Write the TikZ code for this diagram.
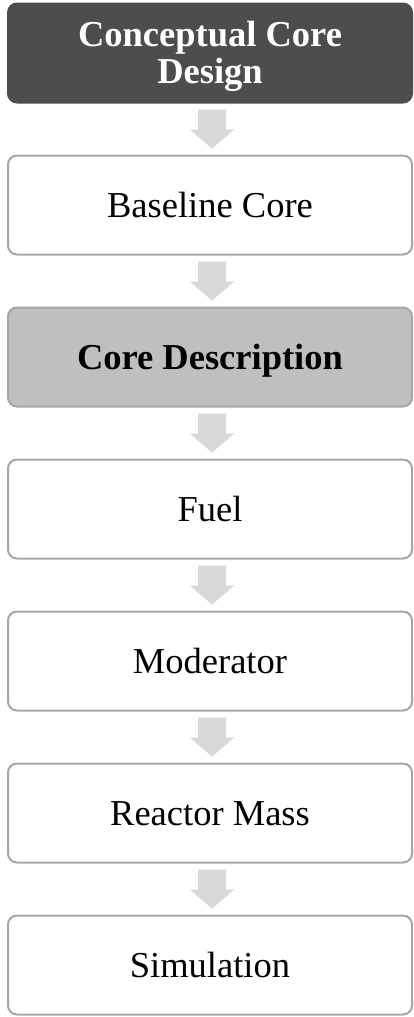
\documentclass[tikz,border=0pt]{standalone}
\usepackage{fontspec}
\setmainfont{Liberation Serif}
\usetikzlibrary{calc}
\definecolor{darkfill}{HTML}{4D4D4D}
\definecolor{midfill}{HTML}{BFBFBF}
\definecolor{edgegray}{HTML}{A6A6A6}
\definecolor{arrowgray}{HTML}{D9D9D9}

% block arrow between two stacked stages
\newcommand\flowarrow[2]{%
  \fill[arrowgray]
    ($(#1.south)+(-12pt,-6pt)$) -- ($(#1.south)+(16pt,-6pt)$) --
    ($(#2.north)+(16pt,25pt)$) -- ($(#2.north)+(24.5pt,25pt)$) --
    ($(#2.north)+(2pt,6pt)$) --
    ($(#2.north)+(-20.5pt,25pt)$) -- ($(#2.north)+(-12pt,25pt)$) -- cycle;}

\begin{document}
\begin{tikzpicture}[x=1pt,y=-1pt,
  stage/.style={rectangle, rounded corners=9pt, draw=edgegray, line width=2pt,
    fill=white, minimum width=404pt, minimum height=99pt, inner sep=0pt,
    text height=24pt, text depth=0pt,
    font=\fontsize{36.5}{37}\selectfont, align=center},
  topstage/.style={stage, fill=darkfill, draw=darkfill, text=white,
    font=\fontsize{36.5}{37}\selectfont\bfseries, text height=61pt},
  keystage/.style={stage, fill=midfill, font=\fontsize{36.5}{37}\selectfont\bfseries}]
\useasboundingbox (0,0) rectangle (414,1017);

\node[topstage] (s1) at (210,53)  {Conceptual Core\\Design};
\node[stage]    (s2) at (210,205) {Baseline Core};
\node[keystage] (s3) at (210,357) {Core Description};
\node[stage]    (s4) at (210,509) {Fuel};
\node[stage]    (s5) at (210,661) {Moderator};
\node[stage]    (s6) at (210,813) {Reactor Mass};
\node[stage]    (s7) at (210,965) {Simulation};

\flowarrow{s1}{s2}
\flowarrow{s2}{s3}
\flowarrow{s3}{s4}
\flowarrow{s4}{s5}
\flowarrow{s5}{s6}
\flowarrow{s6}{s7}
\end{tikzpicture}
\end{document}
